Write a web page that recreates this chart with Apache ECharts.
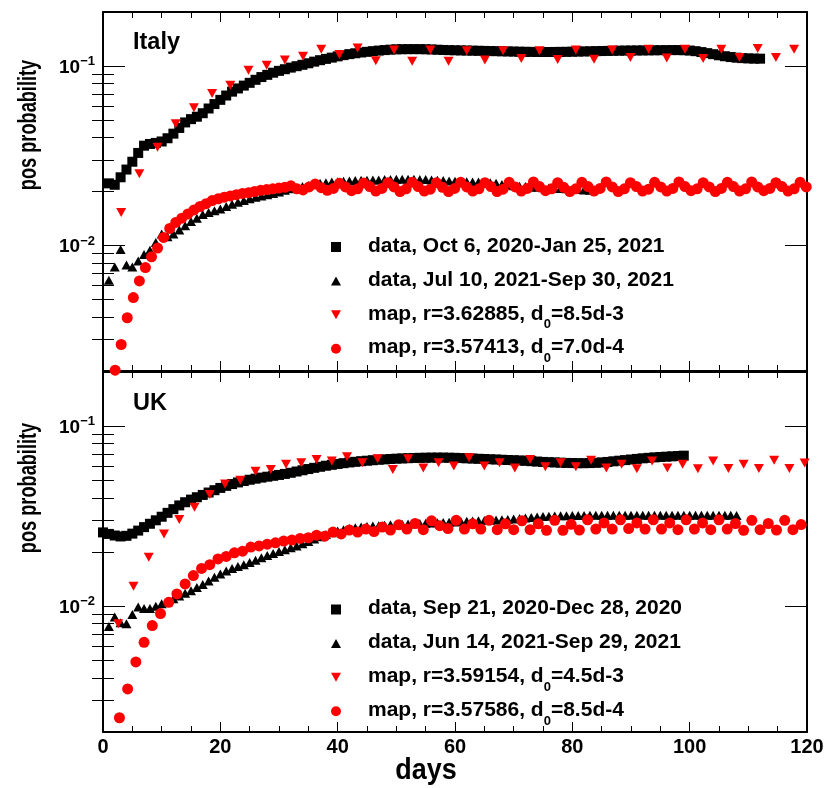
<!DOCTYPE html>
<html>
<head>
<meta charset="utf-8">
<script src="https://cdn.jsdelivr.net/npm/echarts@6/dist/echarts.min.js"></script>
<style>
html,body{margin:0;padding:0;background:#fff;}
#chart{width:829px;height:788px;}
</style>
</head>
<body>
<div id="chart"></div>
<script>
// ---------------- DATA ----------------
// Italy
const itSqX = [1,2,3,4,5,6,7,8,9,10,11,12,13,14,15,16,17,18,19,20,21,22,23,24,25,26,27,28,29,30,31,32,33,34,35,36,37,38,39,40,41,42,43,44,45,46,47,48,49,50,51,52,53,54,55,56,57,58,59,60,61,62,63,64,65,66,67,68,69,70,71,72,73,74,75,76,77,78,79,80,81,82,83,84,85,86,87,88,89,90,91,92,93,94,95,96,97,98,99,100,101,102,103,104,105,106,107,108,109,110,111,112];
const itSqY = [0.0222,0.0218,0.0240,0.0265,0.0293,0.0328,0.0360,0.0368,0.0373,0.0380,0.0396,0.0420,0.0452,0.0485,0.0506,0.0522,0.0546,0.0580,0.0614,0.0648,0.0685,0.0720,0.0750,0.0778,0.0806,0.0838,0.0868,0.0893,0.0918,0.0940,0.0960,0.0980,0.0998,0.1016,0.1036,0.1058,0.1078,0.1096,0.1114,0.1132,0.1150,0.1165,0.1178,0.1190,0.1200,0.1210,0.1219,0.1227,0.1234,0.1239,0.1241,0.1242,0.1242,0.1242,0.1240,0.1237,0.1233,0.1229,0.1226,0.1224,0.1222,0.1220,0.1218,0.1216,0.1214,0.1212,0.1210,0.1208,0.1206,0.1204,0.1202,0.1200,0.1199,0.1198,0.1197,0.1197,0.1198,0.1199,0.1200,0.1202,0.1204,0.1206,0.1208,0.1210,0.1212,0.1214,0.1216,0.1218,0.1219,0.1220,0.1221,0.1222,0.1223,0.1224,0.1225,0.1226,0.1227,0.1227,0.1225,0.1220,0.1210,0.1196,0.1180,0.1164,0.1148,0.1134,0.1122,0.1113,0.1107,0.1103,0.1100,0.1099];

const itTrX = [1,2,3,4,5,6,7,8,9,10,11,12,13,14,15,16,17,18,19,20,21,22,23,24,25,26,27,28,29,30,31,32,33,34,35,36,37,38,39,40,41,42,43,44,45,46,47,48,49,50,51,52,53,54,55,56,57,58,59,60,61,62,63,64,65,66,67,68,69,70,71,72,73,74,75,76,77,78,79,80,81,82,83];
const itTrY = [0.0064,0.0076,0.0095,0.0078,0.0076,0.0082,0.0089,0.0094,0.0104,0.0116,0.0112,0.0116,0.0122,0.0129,0.0136,0.0142,0.0149,0.0153,0.0156,0.0160,0.0165,0.0170,0.0174,0.0178,0.0182,0.0186,0.0189,0.0192,0.0195,0.0199,0.0203,0.0207,0.0210,0.0213,0.0216,0.0219,0.0222,0.0224,0.0226,0.0227,0.0228,0.0229,0.0230,0.0231,0.0231,0.0232,0.0232,0.0233,0.0233,0.0234,0.0234,0.0234,0.0234,0.0233,0.0233,0.0232,0.0231,0.0230,0.0229,0.0228,0.0228,0.0227,0.0226,0.0226,0.0225,0.0224,0.0222,0.0219,0.0217,0.0215,0.0214,0.0213,0.0212,0.0211,0.0210,0.0209,0.0208,0.0208,0.0207,0.0206,0.0205,0.0204,0.0203];

const itMapTrX = [3.1,6.2,9.3,12.4,15.5,18.6,21.7,24.8,27.9,31.0,34.1,37.2,40.3,43.4,46.5,49.6,52.7,55.8,58.9,62.0,65.1,68.2,71.3,74.4,77.5,80.6,83.7,86.8,89.9,93.0,96.1,99.2,102.3,105.4,108.5,111.6,114.7,117.8];
const itMapTrY = [0.0153,0.0251,0.0353,0.0477,0.0586,0.0703,0.0782,0.0948,0.101,0.108,0.1135,0.124,0.116,0.126,0.107,0.1228,0.1064,0.1228,0.1064,0.1216,0.108,0.1216,0.110,0.1216,0.1088,0.1228,0.109,0.1228,0.1117,0.124,0.111,0.124,0.110,0.124,0.1117,0.1254,0.1117,0.124];

const itMapCiX = [2.07,3.10,4.13,5.17,6.20,7.23,8.27,9.30,10.33,11.37,12.40,13.43,14.47,15.50,16.53,17.57,18.60,19.63,20.67,21.70,22.73,23.77,24.80,25.83,26.87,27.90,28.93,29.97,31.00,32.03,33.07,34.10,35.13,36.17,37.20,38.23,39.27,40.30,41.33,42.37,43.40,44.43,45.47,46.50,47.53,48.57,49.60,50.63,51.67,52.70,53.73,54.77,55.80,56.83,57.87,58.90,59.93,60.97,62.00,63.03,64.07,65.10,66.13,67.17,68.20,69.23,70.27,71.30,72.33,73.37,74.40,75.43,76.47,77.50,78.53,79.57,80.60,81.63,82.67,83.70,84.73,85.77,86.80,87.83,88.87,89.90,90.93,91.97,93.00,94.03,95.07,96.10,97.13,98.17,99.20,100.23,101.27,102.30,103.33,104.37,105.40,106.43,107.47,108.50,109.53,110.57,111.60,112.63,113.67,114.70,115.73,116.77,117.80,118.83,119.87];
const itMapCiY = [0.00202,0.00281,0.00396,0.00513,0.00635,0.00754,0.00865,0.00968,0.0111,0.01245,0.01345,0.0142,0.0150,0.0158,0.0165,0.0171,0.0178,0.0182,0.0186,
  0.0189,0.0192,0.0195,0.0197,0.0200,0.0203,0.0205,0.0207,0.0209,0.0211,
  0.0215,0.0207,0.0204,0.0212,0.0220,0.0210,0.0203,0.0208,0.0222,0.0212,0.0202,0.0207,0.0223,0.0213,0.0201,0.0208,0.0224,0.0212,0.0200,0.0207,0.0225,0.0213,0.0201,0.0206,0.0224,0.0211,0.0200,0.0208,0.0225,0.0212,0.0201,0.0207,0.0224,0.0213,0.0200,0.0206,0.0225,0.0212,0.0201,0.0208,0.0226,0.0213,0.0202,0.0207,0.0224,0.0211,0.0200,0.0207,0.0225,0.0213,0.0201,0.0208,0.0226,0.0212,0.0200,0.0207,0.0224,0.0213,0.0201,0.0206,0.0225,0.0212,0.0201,0.0208,0.0226,0.0213,0.0202,0.0207,0.0224,0.0212,0.0200,0.0208,0.0225,0.0213,0.0201,0.0207,0.0226,0.0212,0.0202,0.0208,0.0224,0.0213,0.0201,0.0207,0.0225,0.0212];

// UK
const ukSqX = [0,1,2,3,4,5,6,7,8,9,10,11,12,13,14,15,16,17,18,19,20,21,22,23,24,25,26,27,28,29,30,31,32,33,34,35,36,37,38,39,40,41,42,43,44,45,46,47,48,49,50,51,52,53,54,55,56,57,58,59,60,61,62,63,64,65,66,67,68,69,70,71,72,73,74,75,76,77,78,79,80,81,82,83,84,85,86,87,88,89,90,91,92,93,94,95,96,97,98,99];
const ukSqY = [0.0257,0.0252,0.0247,0.0244,0.0246,0.0253,0.0263,0.0275,0.0287,0.0300,0.0314,0.0330,0.0346,0.0363,0.0378,0.0391,0.0403,0.0415,0.0428,0.0441,0.0454,0.0466,0.0477,0.0487,0.0496,0.0504,0.0511,0.0518,0.0524,0.0530,0.0536,0.0543,0.0551,0.0560,0.0569,0.0578,0.0587,0.0595,0.0603,0.0610,0.0617,0.0623,0.0629,0.0634,0.0639,0.0643,0.0647,0.0651,0.0654,0.0657,0.0660,0.0662,0.0664,0.0666,0.0667,0.0668,0.0669,0.0669,0.0669,0.0668,0.0667,0.0665,0.0663,0.0661,0.0659,0.0657,0.0655,0.0653,0.0651,0.0649,0.0647,0.0645,0.0642,0.0639,0.0636,0.0633,0.0631,0.0629,0.0627,0.0625,0.0624,0.0623,0.0623,0.0624,0.0626,0.0629,0.0633,0.0638,0.0643,0.0648,0.0653,0.0658,0.0663,0.0667,0.0671,0.0674,0.0677,0.0680,0.0683,0.0686];

const ukTrX = [1,2,3,4,5,6,7,8,9,10,11,12,13,14,15,16,17,18,19,20,21,22,23,24,25,26,27,28,29,30,31,32,33,34,35,36,37,38,39,40,41,42,43,44,45,46,47,48,49,50,51,52,53,54,55,56,57,58,59,60,61,62,63,64,65,66,67,68,69,70,71,72,73,74,75,76,77,78,79,80,81,82,83,84,85,86,87,88,89,90,91,92,93,94,95,96,97,98,99,100,101,102,103,104,105,106,107,108];
const ukTrY = [0.0077,0.0087,0.0081,0.0080,0.0090,0.0099,0.0097,0.0097,0.0100,0.0103,0.0106,0.0110,0.0114,0.0118,0.0122,0.0127,0.0132,0.0138,0.0145,0.0151,0.0157,0.0162,0.0166,0.0170,0.0175,0.0180,0.0186,0.0191,0.0196,0.0201,0.0206,0.0211,0.0216,0.0222,0.0229,0.0236,0.0243,0.0250,0.0256,0.0262,0.0266,0.0270,0.0273,0.0275,0.0277,0.0279,0.0280,0.0282,0.0283,0.0284,0.0285,0.0286,0.0287,0.0288,0.0289,0.0290,0.0291,0.0292,0.0293,0.0294,0.0295,0.0296,0.0297,0.0298,0.0299,0.0300,0.0301,0.0302,0.0303,0.0305,0.0307,0.0309,0.0311,0.0313,0.0315,0.0316,0.0317,0.0318,0.0318,0.0319,0.0319,0.0319,0.0320,0.0320,0.0320,0.0320,0.0320,0.0320,0.0320,0.0320,0.0320,0.0320,0.0320,0.0320,0.0320,0.0320,0.0320,0.0320,0.0320,0.0320,0.0320,0.0320,0.0320,0.0320,0.0320,0.0320,0.0320,0.0319];

const ukMapTrX = [2.6,5.2,7.8,10.4,13.0,15.6,18.2,20.8,23.4,26.0,28.6,31.2,33.8,36.4,39.0,41.6,44.2,46.8,49.4,52.0,54.6,57.2,59.8,62.4,65.0,67.6,70.2,72.8,75.4,78.0,80.6,83.2,85.8,88.4,91.0,93.6,96.2,98.8,101.4,104.0,106.6,109.2,111.8,114.4,117.0,119.6];
const ukMapTrY = [0.0080,0.0129,0.0187,0.0252,0.0303,0.0355,0.0417,0.0478,0.0501,0.0562,0.0575,0.0614,0.0626,0.0653,0.0640,0.0676,0.0626,0.0660,0.0575,0.0660,0.0586,0.0626,0.0600,0.0667,0.0600,0.0626,0.0586,0.0653,0.0596,0.0626,0.0596,0.0647,0.0586,0.0614,0.0580,0.0640,0.0586,0.0614,0.0580,0.0640,0.0582,0.0614,0.0582,0.0647,0.0582,0.0624];

const ukMapCiX = [2.8,4.2,5.6,7.0,8.4,9.8,11.2,12.6,14.0,15.4,16.8,18.2,19.6,21.0,22.4,23.8,25.2,26.6,28.0,29.4,30.8,32.2,33.6,35.0,36.4,37.8,39.2,40.6,42.0,43.4,44.8,46.2,47.6,49.0,50.4,51.8,53.2,54.6,56.0,57.4,58.8,60.2,61.6,63.0,64.4,65.8,67.2,68.6,70.0,71.4,72.8,74.2,75.6,77.0,78.4,79.8,81.2,82.6,84.0,85.4,86.8,88.2,89.6,91.0,92.4,93.8,95.2,96.6,98.0,99.4,100.8,102.2,103.6,105.0,106.4,107.8,109.2,110.6,112.0,113.4,114.8,116.2,117.6,119.0];
const ukMapCiY = [0.0024,0.00347,0.0049,0.0063,0.0078,0.0091,0.0105,0.0117,0.0133,0.0148,0.0162,0.0170,0.0183,0.0189,0.0198,0.0202,0.0213,0.0216,0.0221,0.0225,0.0230,0.0233,0.0238,0.0240,0.0248,0.0245,0.0258,0.0252,0.0265,0.0258,0.0268,0.0260,0.0275,0.0265,0.0283,0.0268,0.0288,0.0266,0.0298,0.0280,0.0270,0.0300,0.0268,0.0287,0.0268,0.0300,0.0266,0.0287,0.0266,0.0298,0.0266,0.0287,0.0264,0.0300,0.0264,0.0285,0.0265,0.0302,0.0268,0.0290,0.0268,0.0302,0.0270,0.0290,0.0268,0.0302,0.0268,0.0290,0.0266,0.0302,0.0268,0.0290,0.0266,0.0302,0.0268,0.0288,0.0264,0.0300,0.0266,0.0288,0.0265,0.0300,0.0266,0.0284];

// legend / label texts
const itNames = ['data, Oct 6, 2020-Jan 25, 2021','data, Jul 10, 2021-Sep 30, 2021','map, r=3.62885, d0=8.5d-3','map, r=3.57413, d0=7.0d-4'];
const ukNames = ['data, Sep 21, 2020-Dec 28, 2020','data, Jun 14, 2021-Sep 29, 2021','map, r=3.59154, d0=4.5d-3','map, r=3.57586, d0=8.5d-4'];
const panelTitles = ['Italy','UK'];
const xTickLabels = [0,20,40,60,80,100,120];
const yMajorTicks = [0.01, 0.1];
const yMinorTicks = [0.003,0.004,0.005,0.006,0.007,0.008,0.009,0.02,0.03,0.04,0.05,0.06,0.07,0.08,0.09];

// ---------------- CHART ----------------
const FONT = '"Liberation Sans", Arial, Helvetica, sans-serif';
const SQ = 'path://M0,0L10,0L10,10L0,10Z';
const UP = 'path://M5,0L10,9L0,9Z';
const DN = 'path://M0,0L10,0L5,9Z';

const chart = echarts.init(document.getElementById('chart'), null, {renderer: 'canvas'});
const pairs = (xs, ys) => xs.map((x, i) => [x, ys[i]]);

const grids = [
  {left: 103, top: 12, width: 704, height: 359, outerBoundsMode: 'none'},
  {left: 103, top: 372, width: 704, height: 360, outerBoundsMode: 'none'}
];

const xAxes = [];
const yAxes = [];
[0, 1].forEach(g => {
  ['bottom', 'top'].forEach(pos => {
    xAxes.push({
      type: 'value', gridIndex: g, position: pos, min: 0, max: 120, interval: 20,
      axisLine: {show: true, onZero: false, lineStyle: {color: '#000', width: 2}},
      axisTick: {show: true, inside: true, length: 10, lineStyle: {color: '#000', width: 1}},
      minorTick: {show: true, splitNumber: 4, length: 6, lineStyle: {color: '#000', width: 1}},
      splitLine: {show: false}, minorSplitLine: {show: false},
      axisLabel: {
        show: (g === 1 && pos === 'bottom'), margin: 5, color: '#000',
        fontSize: 20, fontWeight: 'bold', fontFamily: FONT,
        showMinLabel: true, showMaxLabel: true,
        formatter: v => xTickLabels.indexOf(v) >= 0 ? String(v) : ''
      }
    });
  });
  ['left', 'right'].forEach(pos => {
    yAxes.push({
      type: 'log', logBase: 10, gridIndex: g, position: pos, min: 0.002, max: 0.2,
      axisLine: {show: true, onZero: false, lineStyle: {color: '#000', width: 2}},
      axisTick: {show: true, inside: true, length: 22, customValues: yMajorTicks, lineStyle: {color: '#000', width: 1}},
      splitLine: {show: false},
      axisLabel: {
        show: pos === 'left', customValues: yMajorTicks, margin: 8, color: '#000',
        formatter: v => '{b|10}{e|\u2212' + (-Math.round(Math.log10(v))) + '}',
        rich: {
          b: {fontSize: 19, fontWeight: 'bold', fontFamily: FONT, color: '#000', lineHeight: 22, verticalAlign: 'bottom'},
          e: {fontSize: 13, fontWeight: 'bold', fontFamily: FONT, color: '#000', lineHeight: 22, verticalAlign: 'top'}
        }
      }
    });
    yAxes.push({
      type: 'log', logBase: 10, gridIndex: g, position: pos, min: 0.002, max: 0.2,
      axisLine: {show: false},
      axisTick: {show: true, inside: true, length: 11, customValues: yMinorTicks, lineStyle: {color: '#000', width: 1}},
      splitLine: {show: false},
      axisLabel: {show: false}
    });
  });
});

function mkSeries(name, xs, ys, g, symbol, color, size) {
  return {
    name: name, type: 'scatter', xAxisIndex: g * 2, yAxisIndex: g * 4,
    data: pairs(xs, ys), symbol: symbol, symbolSize: size,
    itemStyle: {color: color, opacity: 1}, emphasis: {disabled: true}, silent: true,
    animation: false
  };
}

const series = [
  mkSeries(itNames[0], itSqX, itSqY, 0, SQ, '#000', [10, 10]),
  mkSeries(itNames[1], itTrX, itTrY, 0, UP, '#000', [10, 9]),
  mkSeries(itNames[2], itMapTrX, itMapTrY, 0, DN, '#ff0000', [10, 9]),
  mkSeries(itNames[3], itMapCiX, itMapCiY, 0, 'circle', '#ff0000', 11),
  mkSeries(ukNames[0], ukSqX, ukSqY, 1, SQ, '#000', [10, 10]),
  mkSeries(ukNames[1], ukTrX, ukTrY, 1, UP, '#000', [10, 9]),
  mkSeries(ukNames[2], ukMapTrX, ukMapTrY, 1, DN, '#ff0000', [10, 9]),
  mkSeries(ukNames[3], ukMapCiX, ukMapCiY, 1, 'circle', '#ff0000', 11)
];

const icons = [SQ, UP, DN, 'circle'];
const tok = {color: '#000', fontSize: 21, fontWeight: 'bold', fontFamily: FONT, verticalAlign: 'top'};
function legendText(n) {
  const i = n.indexOf('d0=');
  if (i < 0) return '{f|' + n + '}{sub| }';
  return '{f|' + n.slice(0, i + 1) + '}{sub|0}{m|' + n.slice(i + 2) + '}';
}
function mkLegend(names, top) {
  return {
    data: names.map((n, i) => ({name: n, icon: icons[i]})),
    orient: 'vertical', left: 331, top: top, padding: 0, itemGap: 5.9,
    itemWidth: 10, itemHeight: 10, selectedMode: false,
    formatter: legendText,
    textStyle: {
      color: '#000', fontSize: 21, fontWeight: 'bold', fontFamily: FONT,
      rich: {
        f: Object.assign({}, tok, {padding: [5, 0, 0, 22]}),
        m: Object.assign({}, tok, {padding: [5, 0, 0, 0]}),
        sub: {color: '#000', fontSize: 13, fontWeight: 'bold', fontFamily: FONT, verticalAlign: 'top', padding: [20, 0, 0, 0]}
      }
    }
  };
}

const graphic = [
  {type: 'text', x: 133, y: 43, style: {text: panelTitles[0], font: 'bold 23.5px ' + FONT, fill: '#000', textAlign: 'left', textVerticalAlign: 'middle'}},
  {type: 'text', x: 133, y: 404, style: {text: panelTitles[1], font: 'bold 23.5px ' + FONT, fill: '#000', textAlign: 'left', textVerticalAlign: 'middle'}},
  {type: 'text', x: 29, y: 125, rotation: Math.PI / 2, scaleX: 0.70, style: {text: 'pos probability', font: 'bold 26px ' + FONT, fill: '#000', textAlign: 'center', textVerticalAlign: 'middle'}},
  {type: 'text', x: 29, y: 488, rotation: Math.PI / 2, scaleX: 0.70, style: {text: 'pos probability', font: 'bold 26px ' + FONT, fill: '#000', textAlign: 'center', textVerticalAlign: 'middle'}},
  {type: 'text', x: 426, y: 771, scaleX: 0.93, style: {text: 'days', font: 'bold 29px ' + FONT, fill: '#000', textAlign: 'center', textVerticalAlign: 'middle'}}
];

chart.setOption({
  animation: false,
  backgroundColor: '#fff',
  grid: grids,
  xAxis: xAxes,
  yAxis: yAxes,
  legend: [mkLegend(itNames, 235.5), mkLegend(ukNames, 598)],
  graphic: graphic,
  series: series
});
</script>
</body>
</html>
